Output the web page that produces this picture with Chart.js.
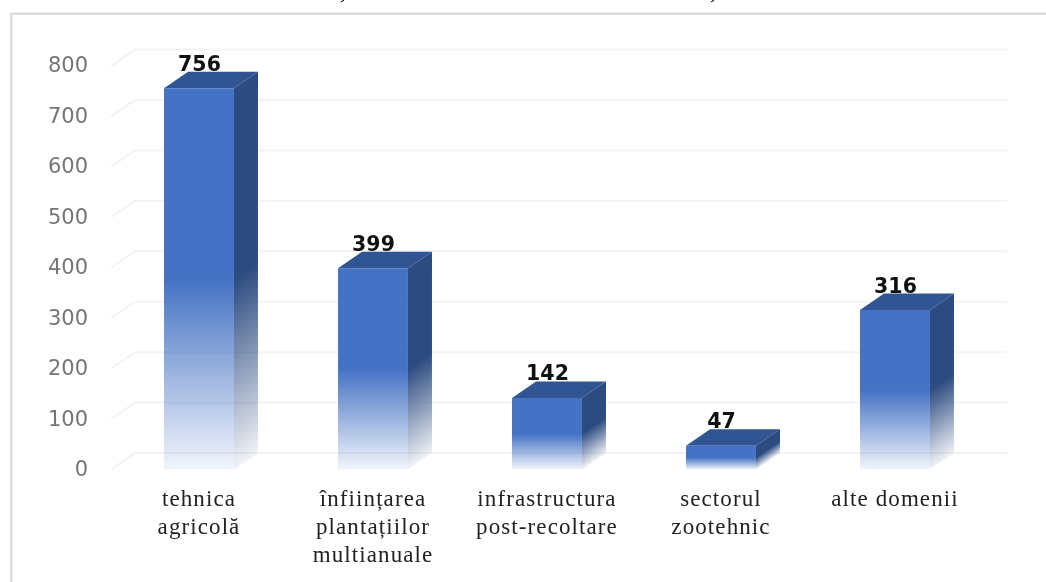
<!DOCTYPE html>
<html><head><meta charset="utf-8">
<style>html,body{margin:0;padding:0;background:#fff}#w{width:1046px;height:582px;position:relative}canvas{display:block}</style>
<script src="https://cdn.jsdelivr.net/npm/chart.js@4"></script></head>
<body><div id="w"><canvas id="c" width="1046" height="582"></canvas></div>
<script>
const categories = [["tehnica","agricolă"],["înființarea","plantațiilor","multianuale"],["infrastructura","post-recoltare"],["sectorul","zootehnic"],["alte domenii"]];
const values = [756,399,142,47,316];
const titleFragments = [[343,","],[713,","]];
const DX = 24, DY = -16.5;
const rgba = (c,a)=>`rgba(${c[0]},${c[1]},${c[2]},${a})`;
const FRONT=[68,114,196], SIDE=[44,75,128], TOP=[49,85,146];
function fade(g,c){ g.addColorStop(0,rgba(c,0.07)); g.addColorStop(0.5,rgba(c,1)); g.addColorStop(1,rgba(c,1)); return g; }

const scene = {
  id:'scene',
  afterLayout(ch){
    const x=ch.ctx, sx=ch.scales.x, sy=ch.scales.y;
    if(!sx._wrapped){ const o=sx.drawLabels; sx.drawLabels=function(a){ x.save(); x.letterSpacing='1.1px'; o.call(this,a); x.restore(); }; sx._wrapped=true; }
    if(!sy._wrapped){ const o=sy.drawLabels; sy.drawLabels=function(a){ x.save(); x.translate(0,1); o.call(this,a); x.restore(); }; sy._wrapped=true; }
  },
  beforeDraw(ch){
    const x=ch.ctx; x.save();
    x.fillStyle='#fff'; x.fillRect(0,0,1046,582);
    x.strokeStyle='#dcdcdc'; x.lineWidth=2.4;
    x.beginPath(); x.moveTo(11.2,582); x.lineTo(11.2,13.7); x.lineTo(1046,13.7); x.stroke();
    x.fillStyle='#111'; x.font='bold 21px "Liberation Serif"'; x.textAlign='center'; x.textBaseline='alphabetic';
    titleFragments.forEach(f=>x.fillText(f[1],f[0],-1));
    x.restore();
  },
  beforeDatasetsDraw(ch){
    const x=ch.ctx, ys=ch.scales.y, a=ch.chartArea;
    x.save();
    x.strokeStyle='#f3f3f3'; x.lineWidth=2;
    ys.ticks.forEach(t=>{
      const p=ys.getPixelForValue(t.value);
      x.beginPath(); x.moveTo(a.left-1,p); x.lineTo(a.left-1+DX,p+DY); x.lineTo(a.right+25,p+DY); x.stroke();
    });
    ch.getDatasetMeta(0).data.forEach(b=>{
      const r=b.x+b.width/2, l=b.x-b.width/2, t=b.y, bs=b.base, h=bs-t;
      x.fillStyle=rgba(TOP,1);
      x.beginPath(); x.moveTo(l,t); x.lineTo(l+DX,t+DY); x.lineTo(r+DX,t+DY); x.lineTo(r,t); x.closePath(); x.fill();
      const n2=DY*DY+DX*DX, s=h*DX/n2;
      x.fillStyle=fade(x.createLinearGradient(r,bs,r+DY*s,bs-DX*s),SIDE);
      x.beginPath(); x.moveTo(r,t); x.lineTo(r+DX,t+DY); x.lineTo(r+DX,bs+DY); x.lineTo(r,bs); x.closePath(); x.fill();
    });
    x.restore();
  },
  afterDatasetsDraw(ch){
    const x=ch.ctx; x.save();
    x.fillStyle='#111'; x.font='bold 20.5px "DejaVu Sans"'; x.textAlign='center'; x.textBaseline='alphabetic';
    ch.getDatasetMeta(0).data.forEach((b,i)=>x.fillText(String(values[i]),b.x+0.5,b.y-17.5));
    x.restore();
  }
};

new Chart(document.getElementById('c'),{
  type:'bar',
  data:{labels:categories,datasets:[{
    data:values,
    categoryPercentage:1,
    barPercentage:0.402,
    backgroundColor(ctx){
      if(ctx.raw===undefined||!ctx.chart.chartArea) return rgba(FRONT,1);
      const ys=ctx.chart.scales.y, b=ys.getPixelForValue(0), t=ys.getPixelForValue(ctx.raw);
      return fade(ctx.chart.ctx.createLinearGradient(0,b,0,t),FRONT);
    },
    borderWidth:0
  }]},
  options:{
    responsive:false,animation:false,
    layout:{padding:{left:0,right:64,top:66,bottom:0}},
    plugins:{legend:{display:false},title:{display:false},tooltip:{enabled:false}},
    scales:{
      y:{min:0,max:800,
        afterFit(s){s.width=112;},
        grid:{display:false},border:{display:false},
        ticks:{stepSize:100,color:'#757575',padding:16,font:{family:'"DejaVu Sans"',size:21}}},
      x:{
        afterFit(s){s.height=112.5;},
        grid:{display:false},border:{display:false},
        ticks:{color:'#222222',padding:8,maxRotation:0,autoSkip:false,font:{family:'"Liberation Serif"',size:23,lineHeight:1.22}}}
    }
  },
  plugins:[scene]
});
</script>
</body></html>
